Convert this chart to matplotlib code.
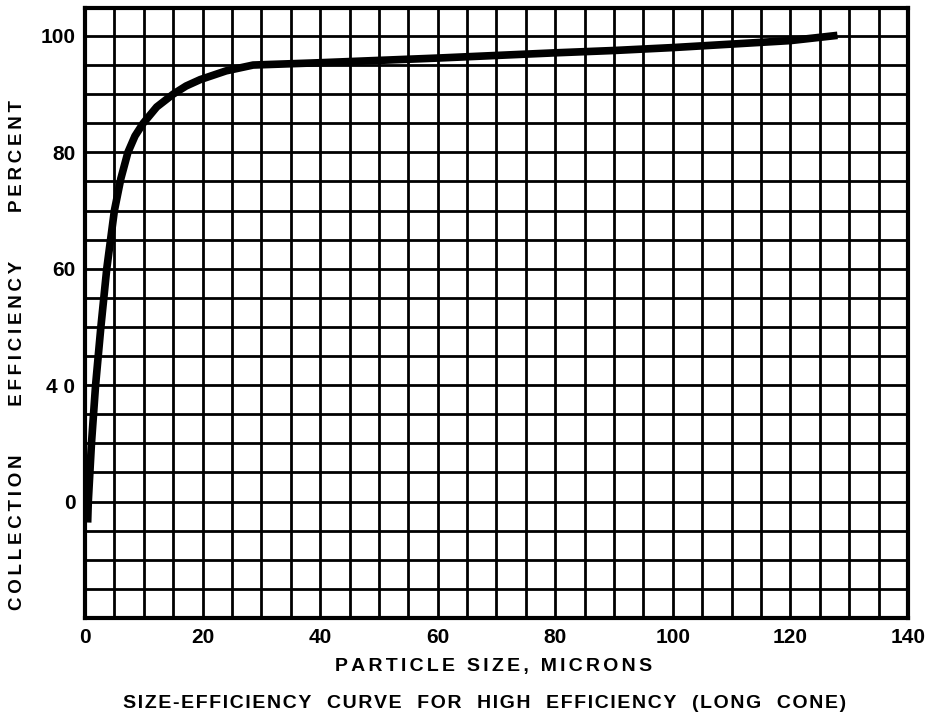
import numpy as np
import matplotlib
matplotlib.use("Agg")
from matplotlib import pyplot as plt

# curve
size_um = [0.45, 0.56, 1.1, 1.8, 2.7, 3.7, 5.0, 6.1, 7.3, 8.5, 9.9, 12.2, 15.0, 17.2, 19.6, 24.0, 28.6, 40.0, 50.0, 60.0, 80.0, 90.0, 100.0, 120.0, 128.0]
efficiency = [16.4, 20.0, 30.0, 40.0, 50.0, 60.0, 70.0, 75.5, 80.0, 82.8, 85.0, 87.8, 90.0, 91.4, 92.5, 94.0, 95.0, 95.4, 95.8, 96.2, 97.1, 97.5, 98.0, 99.2, 100.1]

x_ticks = [0, 20, 40, 60, 80, 100, 120, 140]
x_labels = ["0", "20", "40", "60", "80", "100", "120", "140"]
y_ticks = [20, 40, 60, 80, 100]
y_labels = ["0", "4 0", "60", "80", "100"]


def spaced(s, sep="\u2009"):
    return sep.join(s)


plt.rcParams["font.family"] = ["Liberation Sans", "DejaVu Sans"]
plt.rcParams["font.weight"] = "bold"

fig = plt.figure(figsize=(9.28, 7.18), dpi=100)
ax = fig.add_axes([85 / 928, 100 / 718, 823 / 928, 610 / 718])

ax.set_xlim(0, 140)
ax.set_ylim(0, 104.8)
ax.set_xticks(np.arange(0, 141, 5), minor=True)
ax.set_yticks(np.arange(0, 105, 5), minor=True)
ax.grid(True, which="both", color="black", linewidth=2.0)
ax.set_axisbelow(True)

ax.set_xticks(x_ticks)
ax.set_xticklabels(x_labels)
ax.set_yticks(y_ticks)
ax.set_yticklabels(y_labels)
ax.tick_params(which="both", length=0, labelsize=15, pad=7)
for sp in ax.spines.values():
    sp.set_linewidth(3)

ax.plot(size_um, efficiency, color="black", linewidth=5.5,
        solid_capstyle="butt", solid_joinstyle="round")

fig.text(18 / 928, 1 - 355 / 718, spaced("COLLECTION     EFFICIENCY     PERCENT"),
         rotation=90, ha="center", va="center", fontsize=13.5, fontweight="bold")
fig.text(494 / 928, 1 - 667 / 718, spaced("PARTICLE SIZE, MICRONS", "\u2006"),
         ha="center", va="center", fontsize=14, fontweight="bold")
fig.text(485 / 928, 1 - 703 / 718,
         spaced("SIZE-EFFICIENCY  CURVE  FOR  HIGH  EFFICIENCY  (LONG  CONE)", "\u200a"),
         ha="center", va="center", fontsize=14, fontweight="bold")

fig.savefig("out.png", dpi=100)
